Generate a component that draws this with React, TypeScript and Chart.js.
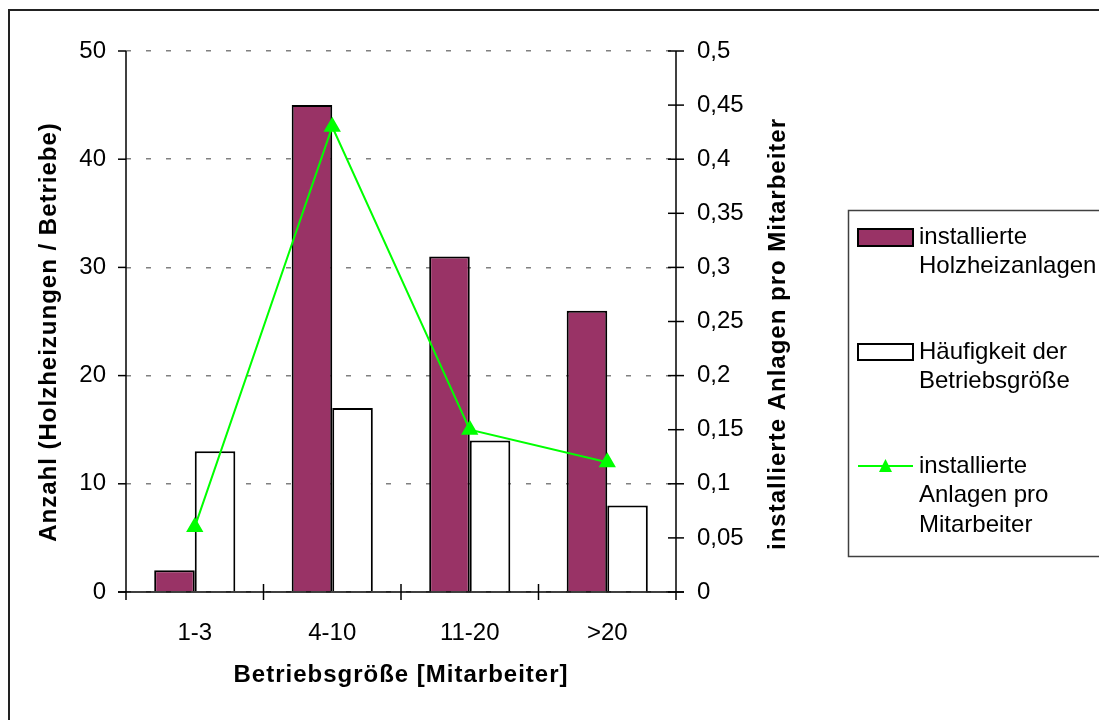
import React, { useEffect, useRef } from "react";
import { Chart, registerables } from "chart.js";

Chart.register(...registerables);

const categories = ["1-3", "4-10", "11-20", ">20"];
const installedHeating = [2, 45, 31, 26];
const companyFrequency = [13, 17, 14, 8];
const perEmployee = [0.06, 0.43, 0.15, 0.12];

const leftTitle = "Anzahl (Holzheizungen / Betriebe)";
const rightTitle = "installierte Anlagen pro Mitarbeiter";
const bottomTitle = "Betriebsgröße [Mitarbeiter]";
const legendLabels = [
  ["installierte", "Holzheizanlagen"],
  ["Häufigkeit der", "Betriebsgröße"],
  ["installierte", "Anlagen pro", "Mitarbeiter"],
];

const FONT = "'Liberation Sans', Arial, sans-serif";
const TICK_SIZE = 24;
const TITLE_SIZE = 24;
const PURPLE = "#993366";
const GREEN = "#00FF00";

const decorPlugin = {
  id: "decor",
  afterDraw(chart: any) {
    const ctx = chart.ctx;
    const area = chart.chartArea;
    const x = chart.scales.x;
    const y = chart.scales.y;
    const y1 = chart.scales.y1;
    ctx.save();
    // outer frame
    ctx.strokeStyle = "#222";
    ctx.lineWidth = 2;
    ctx.strokeRect(9, 10, 2000, 2000);

    ctx.strokeStyle = "#000";
    ctx.lineWidth = 1.5;
    // left axis
    ctx.beginPath();
    ctx.moveTo(area.left, area.top);
    ctx.lineTo(area.left, area.bottom + 8);
    ctx.stroke();
    y.ticks.forEach((t: any) => {
      const py = y.getPixelForValue(t.value);
      ctx.beginPath();
      ctx.moveTo(area.left - 8, py);
      ctx.lineTo(area.left, py);
      ctx.stroke();
    });
    // x axis
    ctx.beginPath();
    ctx.moveTo(area.left - 8, area.bottom);
    ctx.lineTo(area.right + 8, area.bottom);
    ctx.stroke();
    const n = categories.length;
    for (let i = 1; i < n; i++) {
      const px = (x.getPixelForValue(i - 1) + x.getPixelForValue(i)) / 2;
      ctx.beginPath();
      ctx.moveTo(px, area.bottom - 8);
      ctx.lineTo(px, area.bottom + 8);
      ctx.stroke();
    }
    // right axis
    ctx.beginPath();
    ctx.moveTo(area.right, area.top);
    ctx.lineTo(area.right, area.bottom + 8);
    ctx.stroke();
    y1.ticks.forEach((t: any) => {
      const py = y1.getPixelForValue(t.value);
      ctx.beginPath();
      ctx.moveTo(area.right - 8, py);
      ctx.lineTo(area.right + 8, py);
      ctx.stroke();
    });

    // titles
    ctx.fillStyle = "#000";
    ctx.font = `bold ${TITLE_SIZE}px ${FONT}`;
    (ctx as any).letterSpacing = "1px";
    ctx.textAlign = "center";
    ctx.textBaseline = "middle";
    ctx.save();
    ctx.translate(49, 332);
    ctx.rotate(-Math.PI / 2);
    ctx.fillText(leftTitle, 0, 0);
    ctx.restore();
    ctx.save();
    ctx.translate(778, 334);
    ctx.rotate(-Math.PI / 2);
    ctx.fillText(rightTitle, 0, 0);
    ctx.restore();
    ctx.fillText(bottomTitle, (area.left + area.right) / 2, 675);
    (ctx as any).letterSpacing = "0px";

    // legend
    ctx.strokeStyle = "#404040";
    ctx.lineWidth = 1.5;
    ctx.strokeRect(848.5, 210.5, 400, 346);
    ctx.font = `${TICK_SIZE}px ${FONT}`;
    ctx.textAlign = "left";
    const lineH = 29.5;
    const starts = [237, 352, 466];
    ctx.lineWidth = 2;
    ctx.strokeStyle = "#000";
    ctx.fillStyle = PURPLE;
    ctx.fillRect(858, 229, 55, 17);
    ctx.strokeRect(858, 229, 55, 17);
    ctx.fillStyle = "#fff";
    ctx.fillRect(858, 344, 55, 16);
    ctx.strokeRect(858, 344, 55, 16);
    ctx.strokeStyle = GREEN;
    ctx.beginPath();
    ctx.moveTo(858, 466);
    ctx.lineTo(913, 466);
    ctx.stroke();
    ctx.fillStyle = GREEN;
    ctx.beginPath();
    ctx.moveTo(885.5, 459);
    ctx.lineTo(892, 472);
    ctx.lineTo(879, 472);
    ctx.closePath();
    ctx.fill();
    ctx.fillStyle = "#000";
    legendLabels.forEach((lines, i) => {
      lines.forEach((s, j) => {
        ctx.fillText(s, 919, starts[i] + j * lineH);
      });
    });
    ctx.restore();
  },
};

export default function App() {
  const ref = useRef<HTMLCanvasElement | null>(null);
  useEffect(() => {
    document.body.style.margin = "0";
    const canvas = ref.current;
    if (!canvas) return;
    const chart = new Chart(canvas, {
      type: "bar",
      data: {
        labels: categories,
        datasets: [
          {
            type: "line",
            label: "installierte Anlagen pro Mitarbeiter",
            data: perEmployee,
            yAxisID: "y1",
            borderColor: GREEN,
            backgroundColor: GREEN,
            borderWidth: 2,
            pointStyle: "triangle",
            pointRadius: 8,
            pointBackgroundColor: GREEN,
            pointBorderColor: GREEN,
            tension: 0,
            order: 0,
          } as any,
          {
            label: "installierte Holzheizanlagen",
            data: installedHeating,
            yAxisID: "y",
            backgroundColor: PURPLE,
            borderColor: "#000",
            borderWidth: 2,
            categoryPercentage: 0.59,
            barPercentage: 1,
            order: 1,
          },
          {
            label: "Häufigkeit der Betriebsgröße",
            data: companyFrequency,
            yAxisID: "y",
            backgroundColor: "#fff",
            borderColor: "#000",
            borderWidth: 2,
            categoryPercentage: 0.59,
            barPercentage: 1,
            order: 1,
          },
        ],
      },
      options: {
        responsive: false,
        animation: false,
        devicePixelRatio: 1,
        layout: { padding: { left: 8, right: 223, top: 51, bottom: 28 } },
        plugins: { legend: { display: false }, tooltip: { enabled: false } },
        scales: {
          x: {
            type: "category",
            grid: { display: false, drawTicks: false },
            border: { display: false },
            ticks: {
              color: "#000",
              font: { family: FONT, size: TICK_SIZE },
              padding: 27,
              maxRotation: 0,
            },
            afterFit: (s: any) => {
              s.height = 100;
            },
          },
          y: {
            position: "left",
            min: 0,
            max: 50,
            ticks: {
              stepSize: 10,
              color: "#000",
              font: { family: FONT, size: TICK_SIZE },
              padding: 20,
            },
            grid: {
              color: "#808080",
              lineWidth: 1.5,
              drawTicks: false,
            },
            border: { display: false, dash: [5, 15] },
            afterFit: (s: any) => {
              s.width = 118;
            },
          },
          y1: {
            position: "right",
            min: 0,
            max: 0.5,
            ticks: {
              stepSize: 0.05,
              color: "#000",
              font: { family: FONT, size: TICK_SIZE },
              padding: 21,
              callback: (v: any) =>
                String(Number(Number(v).toFixed(2))).replace(".", ","),
            },
            grid: { display: false, drawTicks: false },
            border: { display: false },
            afterFit: (s: any) => {
              s.width = 200;
            },
          },
        },
      } as any,
      plugins: [decorPlugin],
    });
    return () => chart.destroy();
  }, []);
  return (
    <div style={{ width: 1099, height: 720, position: "relative", background: "#fff" }}>
      <canvas ref={ref} width={1099} height={720} style={{ display: "block" }} />
    </div>
  );
}
